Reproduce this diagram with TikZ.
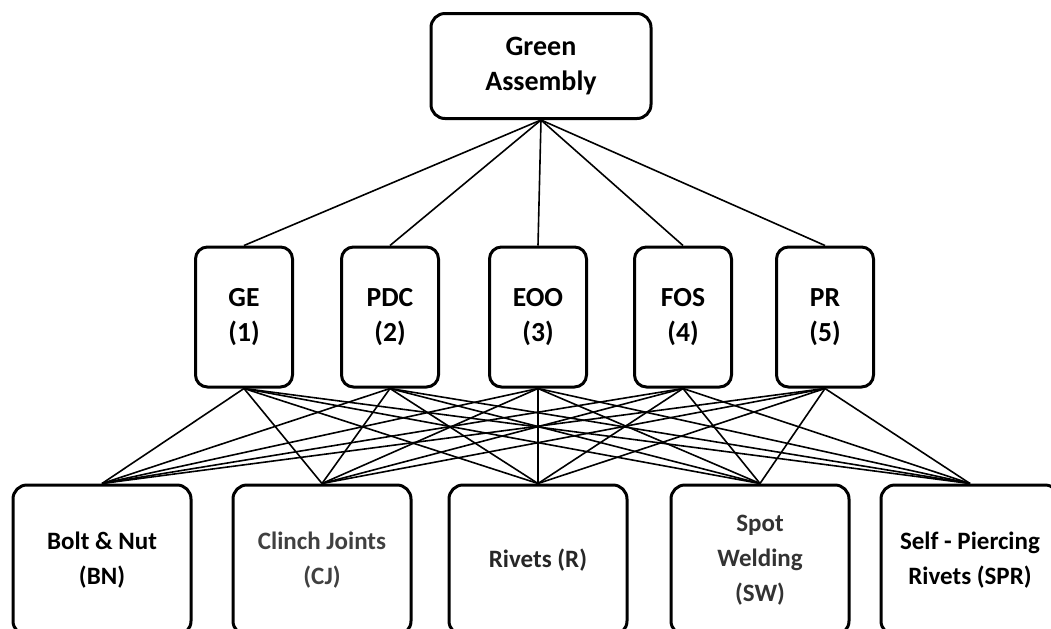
\documentclass[tikz,border=0pt]{standalone}
\usepackage{fontspec}
\setsansfont{Carlito}
\usepackage{xcolor}
\usepackage{tikz}
\usetikzlibrary{arrows.meta, positioning, calc}
\definecolor{jointgray}{HTML}{404040}
\definecolor{rivetgray}{HTML}{262626}
\definecolor{weldgray}{HTML}{333333}

\begin{document}
\begin{tikzpicture}[
    x=0.5pt, y=-0.5pt,
    box/.style={draw, line width=1.5pt, rounded corners=7pt, align=center, inner sep=0pt,
        font=\fontsize{12.5}{17.5}\selectfont\sffamily\bfseries},
    goalbox/.style={box, minimum width=110pt, minimum height=52.5pt,
        font=\fontsize{14}{17.5}\selectfont\sffamily\bfseries},
    critbox/.style={box, rounded corners=6pt, minimum width=48.5pt, minimum height=70pt,
        font=\fontsize{13.8}{17.5}\selectfont\sffamily\bfseries},
    altbox/.style={box, minimum width=89pt, minimum height=75pt},
    link/.style={line width=0.8pt},
]
\useasboundingbox (0,0) rectangle (1051,628);
\clip (0,0) rectangle (1051,628);

\node[goalbox] (goal) at (541,66) {Green\\Assembly};

\node[critbox] (ge)  at (244,317) {GE\\(1)};
\node[critbox] (pdc) at (390,317) {PDC\\(2)};
\node[critbox] (eoo) at (538,317) {EOO\\(3)};
\node[critbox] (fos) at (683,317) {FOS\\(4)};
\node[critbox] (pr)  at (825,317) {PR\\(5)};

\node[altbox] (bn)  at (102,560) {Bolt \& Nut\\(BN)};
\node[altbox, text=jointgray] (cj) at (322,560) {Clinch Joints\\(CJ)};
\node[altbox, text=rivetgray] (rv) at (538,560) {Rivets (R)};
\node[altbox, text=weldgray] (sw) at (760,560) {Spot\\Welding\\(SW)};
\node[altbox] (spr) at (970,560) {Self - Piercing\\Rivets (SPR)};

\foreach \c in {ge,pdc,eoo,fos,pr} {
    \draw[link] (goal.south) -- (\c.north);
    \foreach \a in {bn,cj,rv,sw,spr}
        \draw[link] (\c.south) -- (\a.north);
}
\end{tikzpicture}
\end{document}
